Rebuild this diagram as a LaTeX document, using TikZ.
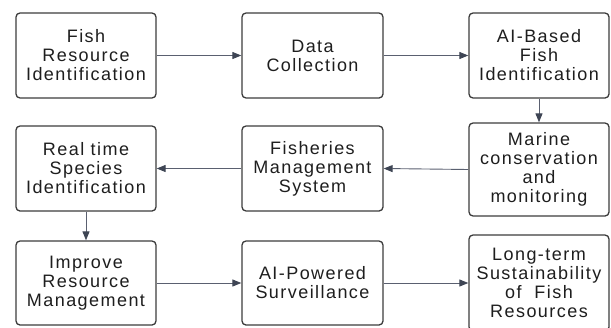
\documentclass[tikz,border=0pt]{standalone}
\usepackage{fontspec}
\setmainfont{Liberation Sans}[LetterSpace=8]
\usetikzlibrary{arrows.meta}
\definecolor{boxline}{HTML}{3C3C3C}
\definecolor{arrline}{HTML}{5A6070}
\definecolor{arrhead}{HTML}{3E4554}
\definecolor{txt}{HTML}{1E1E1E}
\begin{document}
\begin{tikzpicture}[x=1pt,y=-1pt,
  flowbox/.style={draw=boxline,line width=1.3pt,rounded corners=4pt,fill=white,
    text=txt,align=center,inner sep=0pt,
    font=\fontsize{18}{19}\selectfont},
  flowarrow/.style={draw=arrline,line width=0.9pt,
    -{Triangle[length=9pt,width=7pt,color=arrhead]}}]
\useasboundingbox (0,0) rectangle (611,327);
\clip (0,0) rectangle (611,327);
% boxes
\node[flowbox,minimum width=140pt,minimum height=85pt] (b1) at (86,55.5) {Fish\\Resource\\Identification};
\node[flowbox,minimum width=141pt,minimum height=85pt] (b2) at (312.5,55.5) {Data\\Collection};
\node[flowbox,minimum width=140pt,minimum height=85pt] (b3) at (539,55.5) {AI-Based\\Fish\\Identification};
\node[flowbox,minimum width=140pt,minimum height=85pt] (b4) at (86,168.5) {Real time\\Species\\Identification};
\node[flowbox,minimum width=141pt,minimum height=85pt] (b5) at (312.5,168.5) {Fisheries\\Management\\System};
\node[flowbox,minimum width=140pt,minimum height=93pt] (b6) at (539,169.5) {Marine\\conservation\\and\\monitoring};
\node[flowbox,minimum width=140pt,minimum height=84pt] (b7) at (86,283) {Improve\\Resource\\Management};
\node[flowbox,minimum width=141pt,minimum height=84pt] (b8) at (312.5,283) {AI-Powered\\Surveillance};
\node[flowbox,minimum width=140pt,minimum height=96pt] (b9) at (539,283) {Long-term\\Sustainability\\of~~Fish\\Resources};
% connectors
\draw[flowarrow] (b1.east) -- (b2.west);
\draw[flowarrow] (b2.east) -- (b3.west);
\draw[flowarrow] (b3.south) -- (b6.north);
\draw[flowarrow] (b6.west) -- (b5.east);
\draw[flowarrow] (b5.west) -- (b4.east);
\draw[flowarrow] (b4.south) -- (b7.north);
\draw[flowarrow] (b7.east) -- (b8.west);
\draw[flowarrow] (b8.east) -- (b9.west);
\end{tikzpicture}
\end{document}
